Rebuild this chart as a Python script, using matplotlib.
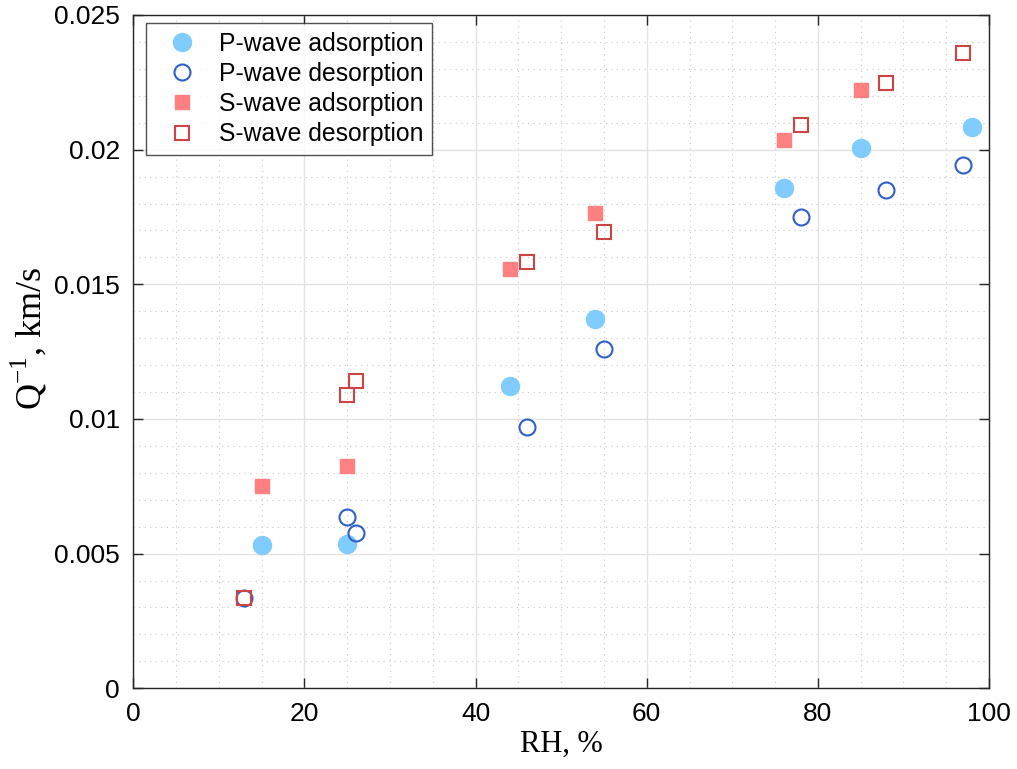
import matplotlib
matplotlib.use("Agg")
import matplotlib.pyplot as plt
from matplotlib.ticker import MultipleLocator, FuncFormatter

# relative humidity (%) and attenuation Q^-1 for each series
rh_p_ads = [15, 25, 44, 54, 76, 85, 98]
q_p_ads = [0.00531, 0.00535, 0.01122, 0.01371, 0.01857, 0.02006, 0.02084]

rh_p_des = [13, 25, 26, 46, 55, 78, 88, 97]
q_p_des = [0.00335, 0.00635, 0.00576, 0.00970, 0.01259, 0.01750, 0.01850, 0.01943]

rh_s_ads = [15, 25, 44, 54, 76, 85]
q_s_ads = [0.00750, 0.00825, 0.01556, 0.01764, 0.02036, 0.02221]

rh_s_des = [13, 25, 26, 46, 55, 78, 88, 97]
q_s_des = [0.00335, 0.01088, 0.01140, 0.01582, 0.01694, 0.02091, 0.02247, 0.02359]

labels = ["P-wave adsorption", "P-wave desorption", "S-wave adsorption", "S-wave desorption"]

plt.rcParams["font.family"] = ["Liberation Sans", "DejaVu Sans"]

fig = plt.figure(figsize=(10.17, 7.69), dpi=100)
ax = fig.add_axes([0.131, 0.105, 0.8415, 0.8755])

ax.plot(rh_p_ads, q_p_ads, "o", ls="none", ms=13, mfc="#80ccff", mec="#80ccff", label=labels[0], zorder=3)
ax.plot(rh_p_des, q_p_des, "o", ls="none", ms=11.5, mfc="none", mec="#2f5fc8", mew=1.5, label=labels[1], zorder=3)
ax.plot(rh_s_ads, q_s_ads, "s", ls="none", ms=9.5, mfc="#ff8080", mec="#ff8080", label=labels[2], zorder=3)
ax.plot(rh_s_des, q_s_des, "s", ls="none", ms=9.5, mfc="none", mec="#cc4444", mew=1.5, label=labels[3], zorder=3)

ax.set_xlim(0, 100)
ax.set_ylim(0, 0.025)
ax.xaxis.set_major_locator(MultipleLocator(20))
ax.xaxis.set_minor_locator(MultipleLocator(5))
ax.yaxis.set_major_locator(MultipleLocator(0.005))
ax.yaxis.set_minor_locator(MultipleLocator(0.001))
ax.yaxis.set_major_formatter(FuncFormatter(lambda v, p: "0" if v == 0 else f"{v:g}"))

ax.grid(True, which="major", color="#e3e3e3", lw=1.0, ls="-", zorder=0)
ax.grid(True, which="minor", color="#c8c8c8", lw=0.8, ls=(0, (1, 4)), zorder=0)
ax.set_axisbelow(True)

ax.tick_params(which="major", direction="in", length=7, width=1, top=True, right=True,
               labelsize=19, color="#262626")
ax.tick_params(axis="y", which="major", pad=9.5)
ax.tick_params(axis="x", which="major", pad=10)
ax.tick_params(which="minor", length=0, top=True, right=True)
for s in ax.spines.values():
    s.set_color("#262626")
    s.set_linewidth(1.0)

ax.set_xlabel("RH, %", family=["Liberation Serif"], fontsize=22, labelpad=3)
ax.set_ylabel(r"Q$^{\mathregular{-1}}$, km/s", family=["Liberation Serif"], fontsize=26)
ax.yaxis.set_label_coords(-0.098, 0.52)

leg = ax.legend(loc="upper left", fontsize=17.8, frameon=True, fancybox=False,
                edgecolor="#262626", borderpad=0.35, handletextpad=0.4,
                labelspacing=0.25, handlelength=2.2, borderaxespad=0,
                bbox_to_anchor=(0.0152, 0.988))
leg.get_frame().set_linewidth(1.0)

fig.savefig("out.png", dpi=100)
